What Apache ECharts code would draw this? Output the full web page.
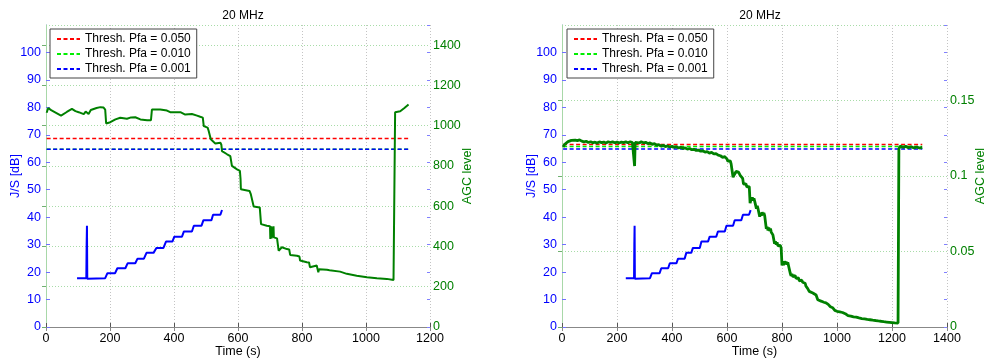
<!DOCTYPE html>
<html>
<head>
<meta charset="utf-8">
<script src="https://cdn.jsdelivr.net/npm/echarts@6/dist/echarts.min.js"></script>
<style>
html,body{margin:0;padding:0;background:#fff;}
#chart{width:989px;height:363px;}
</style>
</head>
<body>
<div id="chart"></div>
<script>
// ---------------- DATA ----------------
const titleText = '20 MHz';
const thresholdNames = ['Thresh. Pfa = 0.050', 'Thresh. Pfa = 0.010', 'Thresh. Pfa = 0.001'];

// Left panel
const thrL_t = [2, 1133];
const thrL_red = [68.7, 68.7];
const thrL_green = [64.7, 64.7];
const thrL_blue = [64.7, 64.7];

const jsL_t = [97, 126, 127, 128, 129, 130, 185, 192, 216, 223, 248, 255, 279, 286, 306, 314, 336, 345, 367, 375, 395, 401, 425, 431, 456, 462, 486, 492, 517, 522, 545, 547, 550];
const jsL_v = [17.8, 17.8, 30.0, 36.9, 17.6, 17.8, 17.8, 19.6, 19.6, 21.4, 21.4, 23.2, 23.2, 24.9, 24.9, 27.0, 27.0, 28.8, 28.8, 31.1, 31.1, 32.9, 32.9, 34.8, 34.8, 36.9, 36.9, 38.9, 38.9, 40.9, 40.9, 41.5, 42.6];

const agcL_t = [2, 7, 16, 30, 47, 65, 81, 92, 102, 110, 118, 124, 130, 133, 137, 140, 144, 158, 170, 180, 185, 188, 201, 217, 232, 253, 266, 279, 295, 316, 328, 331, 357, 378, 388, 420, 435, 456, 472, 482, 490, 493, 505, 508, 513, 515, 529, 545, 548, 550, 566, 576, 579, 581, 597, 606, 608, 609, 636, 640, 649, 668, 672, 690, 700, 701, 703, 704, 705, 710, 711, 712, 722, 727, 737, 753, 760, 763, 784, 792, 794, 815, 822, 825, 846, 850, 851, 853, 878, 886, 888, 919, 940, 971, 1003, 1034, 1065, 1086, 1090, 1091, 1107, 1120, 1133];
const agcL_v = [1064, 1088, 1077, 1065, 1050, 1068, 1083, 1072, 1067, 1062, 1057, 1070, 1072, 1058, 1055, 1078, 1080, 1088, 1092, 1090, 1080, 1011, 1017, 1031, 1039, 1034, 1041, 1042, 1031, 1027, 1027, 1080, 1080, 1075, 1067, 1067, 1055, 1058, 1050, 1044, 1040, 998, 990, 976, 970, 932, 912, 915, 905, 874, 858, 849, 845, 800, 783, 775, 734, 684, 676, 660, 599, 594, 511, 503, 500, 437, 437, 500, 440, 440, 500, 445, 440, 379, 396, 387, 385, 358, 354, 350, 330, 322, 320, 297, 305, 300, 272, 287, 284, 282, 275, 275, 264, 255, 247, 242, 239, 234, 234, 1067, 1072, 1088, 1105];

// Right panel
const thrR_t = [4, 1310];
const thrR_red = [66.5, 66.5];
const thrR_green = [65.7, 65.7];
const thrR_blue = [64.8, 64.8];

const jsR_t = [232, 262, 263, 264, 265, 266, 320, 327, 355, 361, 386, 392, 416, 422, 446, 452, 470, 476, 501, 507, 531, 537, 561, 567, 592, 598, 622, 628, 652, 658, 680, 682, 686];
const jsR_v = [17.8, 17.8, 30.0, 36.9, 17.6, 17.8, 17.8, 19.6, 19.6, 21.4, 21.4, 23.2, 23.2, 24.9, 24.9, 27.0, 27.0, 28.8, 28.8, 31.1, 31.1, 32.9, 32.9, 34.8, 34.8, 36.9, 36.9, 38.9, 38.9, 40.9, 40.9, 41.5, 42.6];

const agcR_t = [4, 10, 16, 22, 28, 34, 40, 48, 56, 64, 72, 80, 88, 96, 104, 112, 120, 128, 136, 144, 152, 160, 168, 176, 184, 192, 200, 208, 216, 224, 232, 240, 248, 256, 262, 264, 266,
  272, 280, 288, 296, 304, 312, 320, 328, 336, 344, 352, 360, 368, 376, 384, 392, 400, 408, 416, 424, 432, 440, 448, 456, 464, 472, 480, 488, 496, 504, 512, 520, 528, 536, 544, 552, 560, 568, 576, 584, 592,
  600, 603, 606, 609, 612, 615, 618, 620, 622, 624, 627, 630, 633, 636, 639, 642, 645, 648, 651, 654, 657, 660, 663, 666, 669, 672, 675, 678, 681, 684, 686, 689, 692, 695, 698, 701, 704, 707, 710, 713, 716, 719, 722, 725, 728, 731, 734, 737, 740, 743, 746, 749, 752, 755, 758, 761, 764, 767, 770, 773, 776, 779, 782, 785, 788, 791, 794, 797, 800, 803, 806, 809, 812, 815, 818, 821, 824, 827, 830, 833, 836, 839, 842, 845, 848, 851, 854, 857, 860, 863, 866, 869, 872, 875, 878, 881, 884, 887, 890, 893, 896, 899, 902,
  906, 912, 918, 924, 930, 936, 944, 952, 960, 968, 976, 984, 992, 1000, 1010, 1020, 1030, 1040, 1050, 1060, 1070, 1080, 1090, 1100, 1110, 1120, 1130, 1140, 1150, 1160, 1170, 1180, 1190, 1200, 1210, 1222,
  1224, 1225, 1230, 1240, 1250, 1260, 1270, 1280, 1290, 1300, 1310];
const agcR_v = [0.1192, 0.1210, 0.1200, 0.1228, 0.1232, 0.1236, 0.1230, 0.1238, 0.1234, 0.1239, 0.1231, 0.1226, 0.1230, 0.1222, 0.1227, 0.1220, 0.1224, 0.1218, 0.1226, 0.1221, 0.1225, 0.1219, 0.1227, 0.1222, 0.1226, 0.1220, 0.1224, 0.1219, 0.1225, 0.1221, 0.1226, 0.1220, 0.1227, 0.1222, 0.1225, 0.1066, 0.1222,
  0.1224, 0.1219, 0.1226, 0.1220, 0.1223, 0.1215, 0.1219, 0.1210, 0.1214, 0.1204, 0.1207, 0.1198, 0.1203, 0.1195, 0.1199, 0.1192, 0.1196, 0.1190, 0.1194, 0.1186, 0.1190, 0.1183, 0.1186, 0.1178, 0.1182, 0.1174, 0.1177, 0.1169, 0.1172, 0.1164, 0.1167, 0.1158, 0.1162, 0.1152, 0.1156, 0.1146, 0.1148, 0.1138, 0.1134, 0.1124, 0.1128,
  0.1112, 0.1098, 0.1110, 0.1092, 0.1100, 0.1080, 0.1088, 0.1074, 0.0992, 0.0988, 0.1010, 0.1000, 0.1030, 0.1022, 0.1042, 0.1026, 0.1036, 0.1004, 0.1014, 0.0992, 0.0984, 0.0946, 0.0958, 0.0936, 0.0948, 0.0928, 0.0940, 0.0922, 0.0930, 0.0820, 0.0836, 0.0824, 0.0858, 0.0838, 0.0852, 0.0830, 0.0842, 0.0784, 0.0802, 0.0782, 0.0790, 0.0730, 0.0756, 0.0738, 0.0760, 0.0742, 0.0756, 0.0738, 0.0750, 0.0650, 0.0664, 0.0640, 0.0658, 0.0636, 0.0652, 0.0628, 0.0640, 0.0610, 0.0598, 0.0552, 0.0568, 0.0546, 0.0560, 0.0538, 0.0550, 0.0528, 0.0540, 0.0522, 0.0408, 0.0426, 0.0410, 0.0436, 0.0418, 0.0432, 0.0414, 0.0428, 0.0404, 0.0380, 0.0356, 0.0338, 0.0352, 0.0334, 0.0346, 0.0326, 0.0340, 0.0322, 0.0334, 0.0316, 0.0326, 0.0306, 0.0316, 0.0300, 0.0310, 0.0296, 0.0304, 0.0288, 0.0290, 0.0270, 0.0276, 0.0256, 0.0258, 0.0236, 0.0240,
  0.0238, 0.0225, 0.0220, 0.0212, 0.0180, 0.0176, 0.0170, 0.0164, 0.0160, 0.0150, 0.0134, 0.0128, 0.0110, 0.0104, 0.0100, 0.0096, 0.0088, 0.0075, 0.0072, 0.0067, 0.0065, 0.0060, 0.0056, 0.0054, 0.0050, 0.0048, 0.0045, 0.0043, 0.0040, 0.0038, 0.0035, 0.0033, 0.0031, 0.0029, 0.0027, 0.0026,
  0.0026, 0.1180, 0.1198, 0.1190, 0.1196, 0.1188, 0.1194, 0.1186, 0.1192, 0.1185, 0.1190];

// Axis settings (tick labels)
const xMaxL = 1200, xMaxR = 1400, xStep = 200;
const jsMax = 110, jsStep = 10;
const agcMaxL = 1500, agcStepL = 200;
const agcMaxR = 0.2, agcStepR = 0.05;
const xName = 'Time (s)';
const yNameL = 'J/S [dB]';
const yNameR = 'AGC level';

// ---------------- CHART ----------------
const FONT = '"Liberation Sans", Arial, Helvetica, sans-serif';
const BLUE = '#0000ff', GREEN = '#008000';
const zip = (t, v) => t.map((x, i) => [x, v[i]]);
const fmt = v => String(+Number(v).toFixed(4));

const grids = [
  {left: 46, right: 989 - 430, top: 25, bottom: 363 - 328},
  {left: 562, right: 989 - 947, top: 25, bottom: 363 - 328}
];

function xAxes(gi, max) {
  return [
    {type: 'value', gridIndex: gi, position: 'bottom', min: 0, max: max, interval: xStep,
      name: xName, nameLocation: 'middle', nameGap: 18, nameMoveOverlap: false,
      nameTextStyle: {color: '#000', fontSize: 12.5, fontFamily: FONT},
      axisLine: {show: true, lineStyle: {color: '#555', width: 1}},
      axisTick: {show: true, inside: true, length: 4, lineStyle: {color: '#555'}},
      axisLabel: {color: '#000', fontSize: 12.5, fontFamily: FONT, margin: 5, formatter: fmt},
      splitLine: {show: true, lineStyle: {color: '#c4c4c4', type: [1, 2], width: 1}}},
    {type: 'value', gridIndex: gi, position: 'top', min: 0, max: max, interval: xStep,
      axisLine: {show: true, lineStyle: {color: '#888', width: 1}},
      axisTick: {show: true, inside: true, length: 4, lineStyle: {color: '#888'}},
      axisLabel: {show: false}, splitLine: {show: false}}
  ];
}

function yAxes(gi, agcMax, agcStep, nameGapR) {
  return [
    {type: 'value', gridIndex: gi, position: 'left', min: 0, max: jsMax, interval: jsStep,
      name: yNameL, nameLocation: 'middle', nameGap: 24, nameRotate: 90, nameMoveOverlap: false,
      nameTextStyle: {color: BLUE, fontSize: 12.5, fontFamily: FONT},
      axisLine: {show: true, lineStyle: {color: '#9a9aff', width: 1}},
      axisTick: {show: true, inside: true, length: 4, lineStyle: {color: '#7070ff'}},
      axisLabel: {color: BLUE, fontSize: 12.5, fontFamily: FONT, margin: 5, showMaxLabel: false, formatter: fmt},
      splitLine: {show: false}},
    {type: 'value', gridIndex: gi, position: 'right', min: 0, max: agcMax, interval: agcStep,
      name: yNameR, nameLocation: 'middle', nameGap: nameGapR, nameRotate: 90, nameMoveOverlap: false,
      nameTextStyle: {color: GREEN, fontSize: 12.5, fontFamily: FONT},
      axisLine: {show: true, lineStyle: {color: '#a8d8a8', width: 1}},
      axisTick: {show: true, inside: true, length: 4, lineStyle: {color: '#70b070'}},
      axisLabel: {color: GREEN, fontSize: 12.5, fontFamily: FONT, margin: 3, showMaxLabel: false, formatter: fmt},
      splitLine: {show: true, lineStyle: {color: '#a8dca8', type: [1, 2], width: 1}}},
    {type: 'value', gridIndex: gi, position: 'right', min: 0, max: jsMax, interval: jsStep,
      axisLine: {show: false},
      axisTick: {show: true, inside: true, length: 3, lineStyle: {color: '#8080ff'}},
      axisLabel: {show: false}, splitLine: {show: false}}
  ];
}

function thrSeries(xi, yi, t, r, g, b) {
  const cols = ['#ff0000', '#00ee00', '#0000ff'];
  return [r, g, b].map((v, k) => ({
    name: thresholdNames[k], type: 'line', xAxisIndex: xi, yAxisIndex: yi,
    data: zip(t, v), symbol: 'none', showSymbol: false, z: 2,
    lineStyle: {color: cols[k], width: 1.5, type: [4, 2.5]},
    itemStyle: {color: cols[k]}
  }));
}

function legend(left) {
  return {
    data: thresholdNames, orient: 'vertical', left: left, top: 29,
    backgroundColor: '#fff', borderColor: '#444', borderWidth: 1,
    padding: [4, 6, 3, 6], itemGap: 3, itemWidth: 23, itemHeight: 12,
    itemStyle: {color: 'rgba(0,0,0,0)', borderColor: 'rgba(0,0,0,0)', borderWidth: 0, opacity: 0},
    textStyle: {color: '#000', fontSize: 12, fontFamily: FONT},
    selectedMode: false
  };
}

const option = {
  animation: false,
  backgroundColor: '#fff',
  title: [
    {text: titleText, left: 238, top: 5, textAlign: 'center', textStyle: {fontSize: 12, fontWeight: 'normal', color: '#000', fontFamily: FONT}},
    {text: titleText, left: 755, top: 5, textAlign: 'center', textStyle: {fontSize: 12, fontWeight: 'normal', color: '#000', fontFamily: FONT}}
  ],
  legend: [legend(50), legend(567)],
  grid: grids,
  xAxis: [...xAxes(0, xMaxL), ...xAxes(1, xMaxR)],
  yAxis: [...yAxes(0, agcMaxL, agcStepL, 31), ...yAxes(1, agcMaxR, agcStepR, 27)],
  series: [
    ...thrSeries(0, 0, thrL_t, thrL_red, thrL_green, thrL_blue),
    {name: 'J/S', type: 'line', xAxisIndex: 0, yAxisIndex: 0, data: zip(jsL_t, jsL_v), symbol: 'none', z: 3,
      lineStyle: {color: BLUE, width: 2}},
    {name: 'AGC', type: 'line', xAxisIndex: 0, yAxisIndex: 1, data: zip(agcL_t, agcL_v), symbol: 'none', z: 4,
      lineStyle: {color: GREEN, width: 2}},
    ...thrSeries(2, 3, thrR_t, thrR_red, thrR_green, thrR_blue),
    {name: 'J/S', type: 'line', xAxisIndex: 2, yAxisIndex: 3, data: zip(jsR_t, jsR_v), symbol: 'none', z: 3,
      lineStyle: {color: BLUE, width: 2}},
    {name: 'AGC', type: 'line', xAxisIndex: 2, yAxisIndex: 4, data: zip(agcR_t, agcR_v), symbol: 'none', z: 4,
      lineStyle: {color: GREEN, width: 2.8}}
  ]
};

const chart = echarts.init(document.getElementById('chart'), null, {renderer: 'canvas'});
chart.setOption(option);
</script>
</body>
</html>
